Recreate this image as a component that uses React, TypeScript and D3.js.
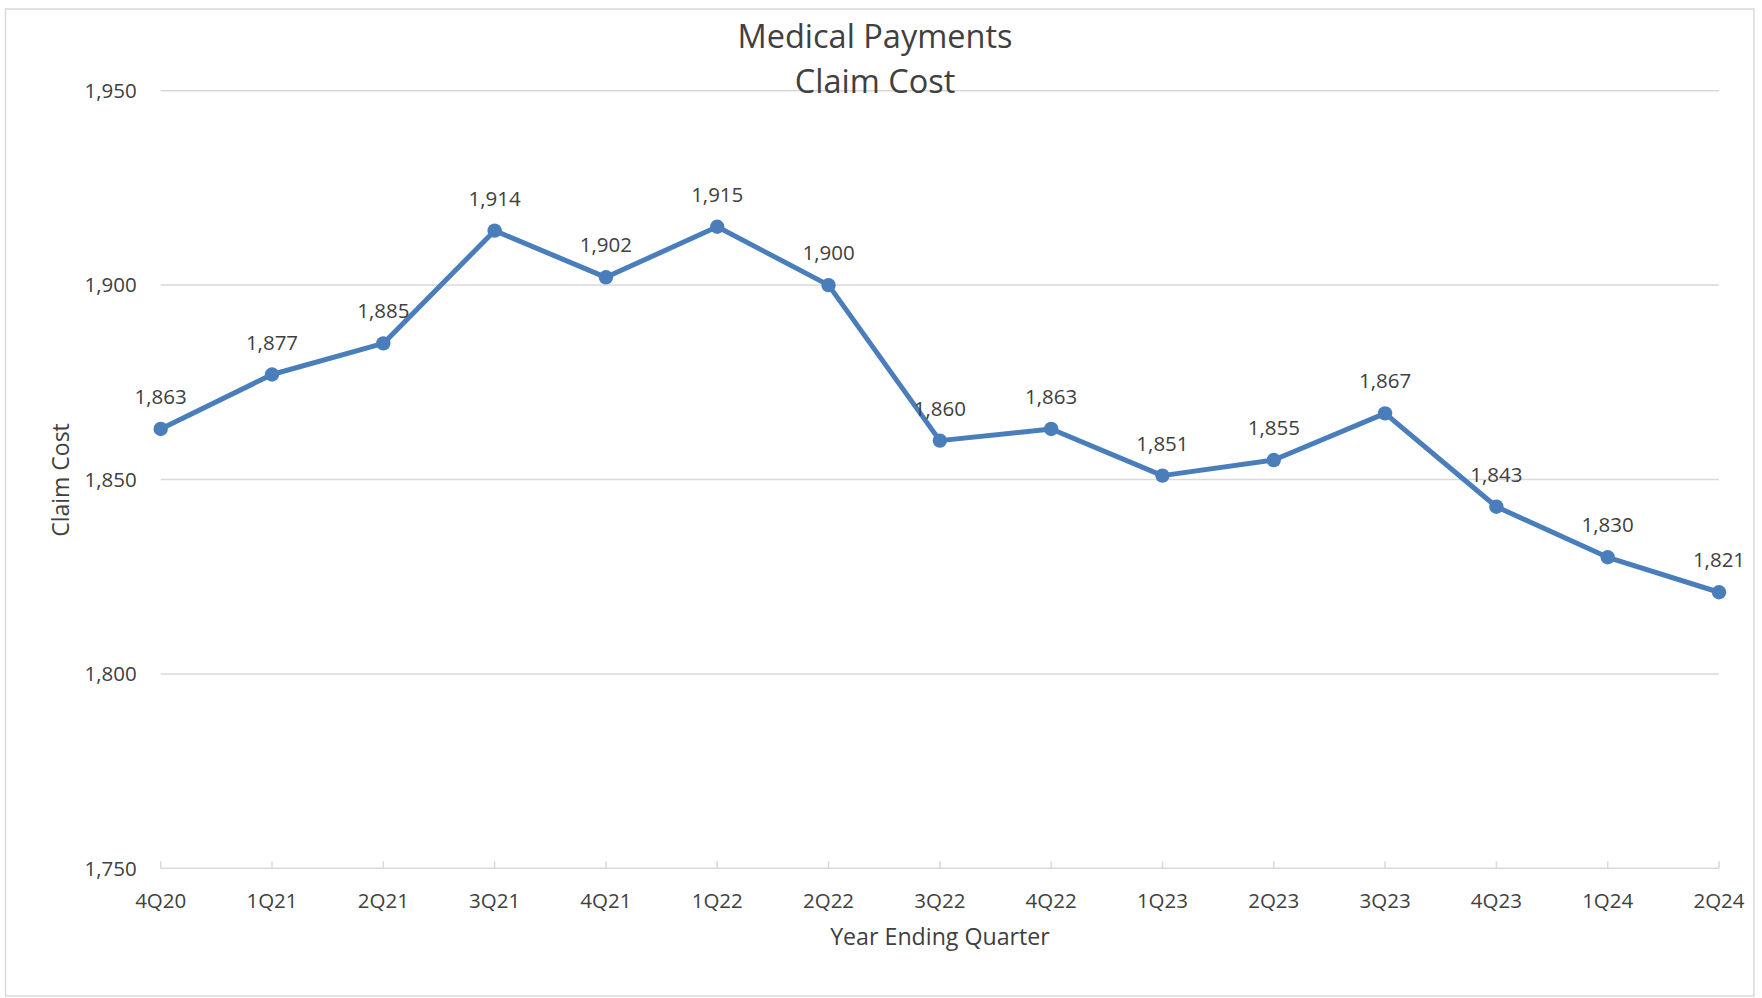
import React from "react";
import * as d3 from "d3";

const categories = ["4Q20","1Q21","2Q21","3Q21","4Q21","1Q22","2Q22","3Q22","4Q22","1Q23","2Q23","3Q23","4Q23","1Q24","2Q24"];
const claimCost = [1863,1877,1885,1914,1902,1915,1900,1860,1863,1851,1855,1867,1843,1830,1821];
const yTicks = [1750,1800,1850,1900,1950];
const titleLines = ["Medical Payments","Claim Cost"];
const xTitle = "Year Ending Quarter";
const yTitle = "Claim Cost";

const W = 1762, H = 998;
const FONT = "'Open Sans', 'Noto Sans', sans-serif";
const TEXT = "#404040";
const GRID = "#d9d9d9";
const BLUE = "#4a7ebb";

export default function App() {
  const x = d3.scalePoint<string>().domain(categories).range([160.7, 1719]);
  const y = d3.scaleLinear().domain([1750, 1950]).range([868.3, 90.7]);
  const fmt = d3.format(",");
  const line = d3.line<number>().x((_, i) => x(categories[i])!).y((d) => y(d));

  return (
    <svg width={W} height={H} style={{ position: "absolute", left: 0, top: 0, background: "#fff" }} fontFamily={FONT}>
      <rect x={5.5} y={9} width={1748.5} height={987} fill="#fff" stroke={GRID} strokeWidth={1.5} />
      {yTicks.filter((v) => v !== 1750).map((v) => (
        <line key={v} x1={160.7} x2={1719} y1={y(v)} y2={y(v)} stroke={GRID} strokeWidth={1.5} />
      ))}
      <line x1={160.7} x2={1719} y1={y(1750)} y2={y(1750)} stroke={GRID} strokeWidth={1.5} />
      {categories.map((c) => (
        <line key={c} x1={x(c)} x2={x(c)} y1={y(1750)} y2={y(1750) - 7} stroke={GRID} strokeWidth={1.5} />
      ))}
      {titleLines.map((t, i) => (
        <text key={t} x={875} y={47.7 + i * 45.6} textAnchor="middle" fontSize={32.5} fill={TEXT}>{t}</text>
      ))}
      {yTicks.map((v) => (
        <text key={v} x={136.7} y={y(v)} dy="0.36em" textAnchor="end" fontSize={20.5} fill={TEXT}>{fmt(v)}</text>
      ))}
      {categories.map((c) => (
        <text key={c} x={x(c)} y={907.7} textAnchor="middle" fontSize={20.5} fill={TEXT}>{c}</text>
      ))}
      <text x={940} y={945} textAnchor="middle" fontSize={23.2} fill={TEXT}>{xTitle}</text>
      <text transform={`translate(69.3,480) rotate(-90)`} textAnchor="middle" fontSize={23} fill={TEXT}>{yTitle}</text>
      <path d={line(claimCost)!} fill="none" stroke={BLUE} strokeWidth={5} strokeLinejoin="round" />
      {claimCost.map((v, i) => (
        <circle key={i} cx={x(categories[i])} cy={y(v)} r={7.2} fill={BLUE} />
      ))}
      {claimCost.map((v, i) => (
        <text key={"l" + i} x={x(categories[i])} y={y(v) - 25} textAnchor="middle" fontSize={20.5} fill={TEXT}>{fmt(v)}</text>
      ))}
    </svg>
  );
}
